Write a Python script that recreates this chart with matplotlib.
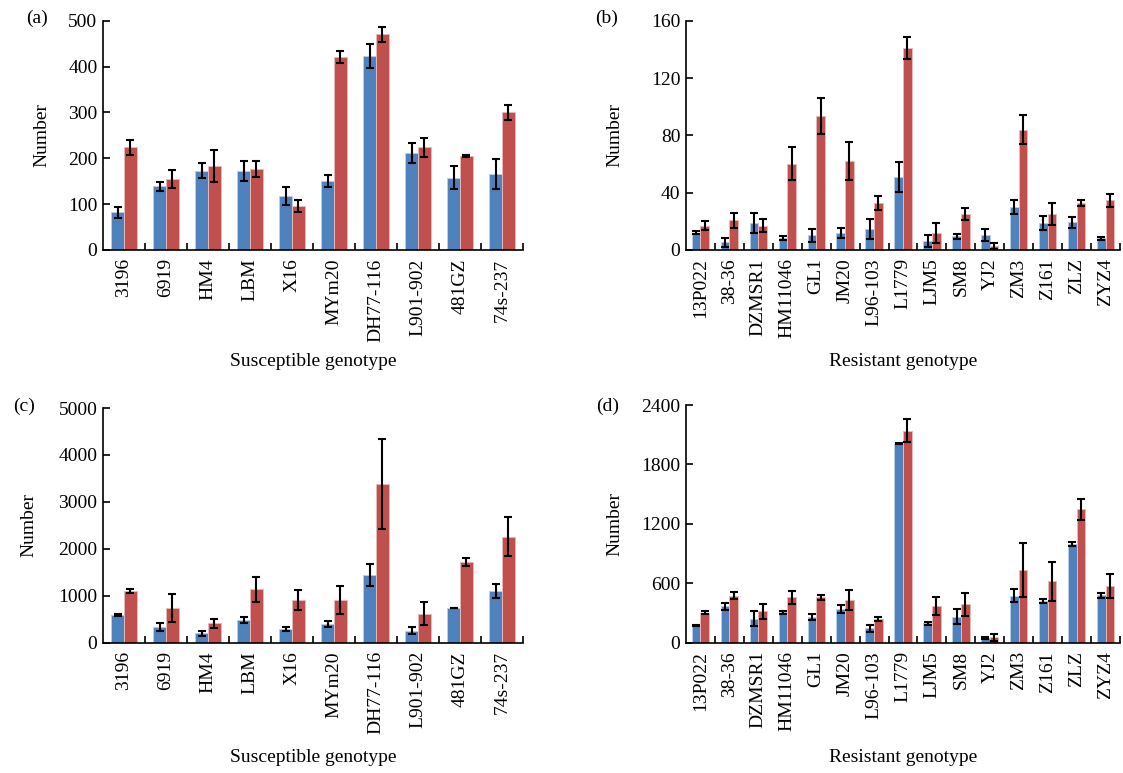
import numpy as np
import matplotlib.pyplot as plt

plt.rcParams['font.family'] = ['Liberation Serif', 'DejaVu Serif']
plt.rcParams['font.size'] = 14

BLUE = '#4F81BD'
RED = '#C0504D'

sus_names = ['3196', '6919', 'HM4', 'LBM', 'X16', 'MYm20', 'DH77-116',
             'L901-902', '481GZ', '74s-237']
res_names = ['13P022', '38-36', 'DZMSR1', 'HM11046', 'GL1', 'JM20', 'L96-103',
             'L1779', 'LJM5', 'SM8', 'YJ2', 'ZM3', 'Z161', 'ZLZ', 'ZYZ4']

# (a) susceptible
a_blue = [82, 139, 173, 173, 118, 151, 423, 212, 158, 166]
a_blue_err = [12, 10, 16, 22, 20, 13, 26, 22, 26, 33]
a_red = [224, 155, 184, 176, 96, 420, 470, 224, 205, 300]
a_red_err = [16, 20, 35, 17, 13, 13, 17, 21, 2, 16]

# (b) resistant
b_blue = [12, 5.3, 18.7, 8.3, 10.2, 12, 14.8, 50.9, 6.2, 9.5, 10.6, 30, 19, 19.2, 8.3]
b_blue_err = [1, 3, 7, 1.5, 4.4, 3.3, 7, 10.7, 4, 2, 4.3, 5, 5, 3.7, 1]
b_red = [17, 20.6, 17, 60.3, 93.4, 62.2, 32.8, 140.8, 11.6, 25.2, 2.8, 84, 25.2, 32.8, 34.7]
b_red_err = [3, 5, 4.5, 11.5, 12.5, 13.5, 5, 7.7, 7, 4.3, 2.2, 10, 7.5, 2, 4.5]

# (c) susceptible
c_blue = [590, 330, 199, 482, 284, 397, 1440, 255, 735, 1099]
c_blue_err = [20, 90, 50, 60, 40, 55, 235, 80, 5, 150]
c_red = [1100, 745, 411, 1135, 908, 908, 3383, 617, 1716, 2255]
c_red_err = [40, 300, 90, 260, 210, 290, 965, 250, 90, 415]

# (d) resistant
d_blue = [171, 370, 242, 309, 255, 339, 145, 2010, 195, 262, 47, 474, 420, 998, 477]
d_blue_err = [5, 35, 74, 15, 30, 43, 34, 5, 17, 74, 10, 67, 17, 20, 24]
d_red = [303, 474, 319, 460, 457, 430, 239, 2141, 370, 387, 54, 736, 618, 1345, 575]
d_red_err = [18, 37, 75, 67, 23, 104, 20, 118, 89, 117, 33, 275, 195, 106, 120]

W, H = 1123, 773
fig = plt.figure(figsize=(W / 100, H / 100), dpi=100)


def panel(left, right, top, bottom, names, blue, blue_err, red, red_err,
          ymax, ystep, letter, letter_xy, ylab_x, xlab, xlab_y):
    ax = fig.add_axes([left / W, 1 - bottom / H, (right - left) / W, (bottom - top) / H])
    x = np.arange(len(names))
    w = 0.3
    ax.bar(x - w / 2, blue, w, color=BLUE, edgecolor='#b9cde6', linewidth=0.7, zorder=2)
    ax.bar(x + w / 2, red, w, color=RED, edgecolor='#e6b9b8', linewidth=0.7, zorder=2)
    ax.errorbar(x - w / 2, blue, yerr=blue_err, fmt='none', ecolor='black',
                elinewidth=1.5, capsize=3, capthick=1.5, zorder=3)
    ax.errorbar(x + w / 2, red, yerr=red_err, fmt='none', ecolor='black',
                elinewidth=1.5, capsize=3, capthick=1.5, zorder=3)
    ax.set_xlim(-0.5, len(names) - 0.5)
    ax.set_ylim(0, ymax)
    ax.set_yticks(np.arange(0, ymax + 1, ystep))
    # ticks sit between categories, labels sit at the centres
    ax.set_xticks(x + 0.5)
    ax.set_xticklabels([])
    ax.set_xticks(x, minor=True)
    ax.set_xticklabels(names, minor=True, rotation=90)
    ax.tick_params(axis='x', which='minor', length=0, pad=6)
    ax.tick_params(axis='x', which='major', direction='in', length=5, width=1.2)
    ax.tick_params(axis='y', direction='in', length=5, width=1.2, pad=4)
    for s in ['top', 'right']:
        ax.spines[s].set_visible(False)
    for s in ['left', 'bottom']:
        ax.spines[s].set_linewidth(1.2)
    fig.text(letter_xy[0] / W, 1 - letter_xy[1] / H, letter, ha='center', va='center')
    fig.text(ylab_x / W, 1 - (top + bottom) / 2 / H, 'Number', rotation=90,
             ha='center', va='center')
    fig.text((left + right) / 2 / W, 1 - xlab_y / H, xlab, ha='center', va='center')
    return ax


panel(103, 523, 20.7, 250, sus_names, a_blue, a_blue_err, a_red, a_red_err,
      500, 100, '(a)', (37, 18), 42, 'Susceptible genotype', 362)
panel(686, 1120, 20.7, 250, res_names, b_blue, b_blue_err, b_red, b_red_err,
      160, 40, '(b)', (607, 18), 615, 'Resistant genotype', 362)
panel(103, 523, 408, 642.7, sus_names, c_blue, c_blue_err, c_red, c_red_err,
      5000, 1000, '(c)', (24, 406), 29, 'Susceptible genotype', 757)
panel(686, 1120, 405, 642.7, res_names, d_blue, d_blue_err, d_red, d_red_err,
      2400, 600, '(d)', (608, 406), 615, 'Resistant genotype', 757)

fig.savefig('out.png', dpi=100)
